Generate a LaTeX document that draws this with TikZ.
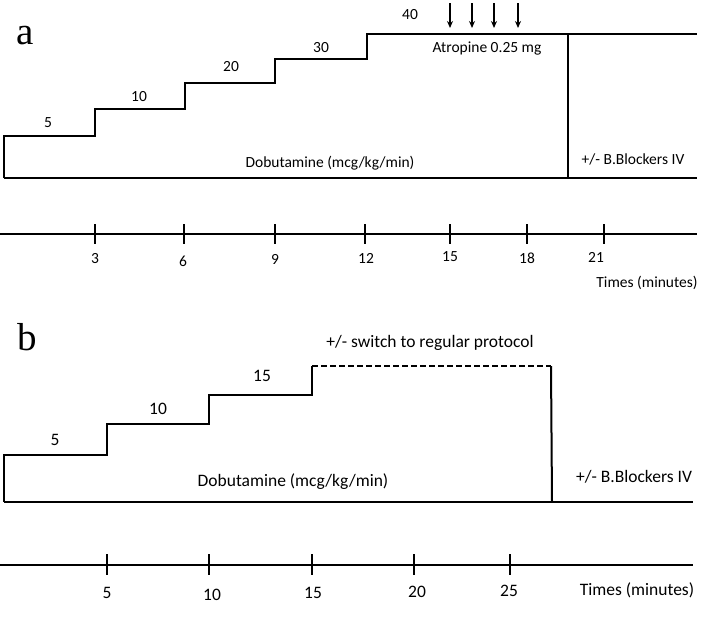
\documentclass[tikz,border=0pt]{standalone}
\usepackage{fontspec}
\setmainfont{Carlito}
\newfontfamily\panelfont{Liberation Serif}
\usetikzlibrary{arrows.meta}
\begin{document}
\begin{tikzpicture}[x=1pt,y=-1pt,
  thick line/.style={line width=2pt, line join=miter},
  tickmark/.style={line width=2pt},
  axisline/.style={line width=2pt},
  txa/.style={inner sep=0pt, font=\fontsize{15.5}{18}\selectfont},
  txb/.style={inner sep=0pt, font=\fontsize{17.5}{20}\selectfont},
  panel/.style={inner sep=0pt, anchor=base west, font=\panelfont\fontsize{39}{40}\selectfont},
  dosearrow/.style={line width=1.3pt, -{Stealth[length=7pt,width=6pt]}}]
\useasboundingbox (0,0) rectangle (708,616);

% ---------------- panel a ----------------
\node[panel] (la) at (16,44) {a};
\coordinate (a0) at (4,178);
\coordinate (a1) at (4,136);
\coordinate (a2) at (95,136);
\coordinate (a3) at (95,109);
\coordinate (a4) at (185,109);
\coordinate (a5) at (185,83);
\coordinate (a6) at (275,83);
\coordinate (a7) at (275,59);
\coordinate (a8) at (367,59);
\coordinate (a9) at (367,34);
\coordinate (a10) at (697,34);
\coordinate (aV1) at (568,34);
\coordinate (aV2) at (568,178);
\coordinate (aE) at (697,178);
\draw[thick line] (a0) -- (a1) -- (a2) -- (a3) -- (a4) -- (a5) -- (a6) -- (a7) -- (a8) -- (a9) -- (a10);
\draw[thick line] (aV1) -- (aV2);
\draw[thick line] (a0) -- (aE);

\node[txa] (d5) at (48,123) {5};
\node[txa] (d10) at (139,97) {10};
\node[txa] (d20) at (231,67) {20};
\node[txa] (d30) at (321,48) {30};
\node[txa] (d40) at (410,15) {40};
\node[txa] (atro) at (487,48) {Atropine 0.25 mg};
\node[txa] (doba) at (330,163) {Dobutamine (mcg/kg/min)};
\node[txa] (bba) at (633,159) {+/- B.Blockers IV};

\foreach \x [count=\i] in {450,472,494,518}{
  \coordinate (arS\i) at (\x,3);
  \coordinate (arE\i) at (\x,28);
  \draw[dosearrow] (arS\i) -- (arE\i);
}

% axis a
\coordinate (axA0) at (0,234);
\coordinate (axA1) at (697,234);
\draw[axisline] (axA0) -- (axA1);
\foreach \x/\lab/\lx/\ly in {95/3/95/259, 184/6/183/261, 275/9/275/259, 365/12/366/258, 450/15/450/257, 527/18/527/258, 604/21/596/257}{
  \draw[tickmark] (\x,224) -- (\x,244);
  \node[txa] at (\lx,\ly) {\lab};
}
\node[txa] (timea) at (647,283) {Times (minutes)};

% ---------------- panel b ----------------
\node[panel] (lb) at (17,350) {b};
\coordinate (b0) at (4,502);
\coordinate (b1) at (4,455);
\coordinate (b2) at (107,455);
\coordinate (b3) at (107,424);
\coordinate (b4) at (209,424);
\coordinate (b5) at (209,395);
\coordinate (b6) at (312,395);
\coordinate (b7) at (312,366);
\coordinate (b8) at (551,366);
\coordinate (b9) at (552,502);
\coordinate (bE) at (693,502);
\draw[thick line] (b0) -- (b1) -- (b2) -- (b3) -- (b4) -- (b5) -- (b6) -- (b7);
\draw[thick line, dash pattern=on 6pt off 3pt] (b7) -- (b8);
\draw[thick line] (b8) -- (b9);
\draw[thick line] (b0) -- (bE);

\node[txb] (e5) at (55,440) {5};
\node[txb] (e10) at (158,409) {10};
\node[txb] (e15) at (262,376) {15};
\node[txb] (sw) at (430,343) {+/- switch to regular protocol};
\node[txb] (dobb) at (293,482) {Dobutamine (mcg/kg/min)};
\node[txb] (bbb) at (634,477) {+/- B.Blockers IV};

% axis b
\coordinate (axB0) at (0,565);
\coordinate (axB1) at (693,565);
\draw[axisline] (axB0) -- (axB1);
\foreach \x/\lab/\lx/\ly in {107/5/107/593, 209/10/212/595, 312/15/313/593, 414/20/417/592, 510/25/509/591}{
  \draw[tickmark] (\x,554) -- (\x,575);
  \node[txb] at (\lx,\ly) {\lab};
}
\node[txb] (timeb) at (637,590) {Times (minutes)};
\end{tikzpicture}
\end{document}
